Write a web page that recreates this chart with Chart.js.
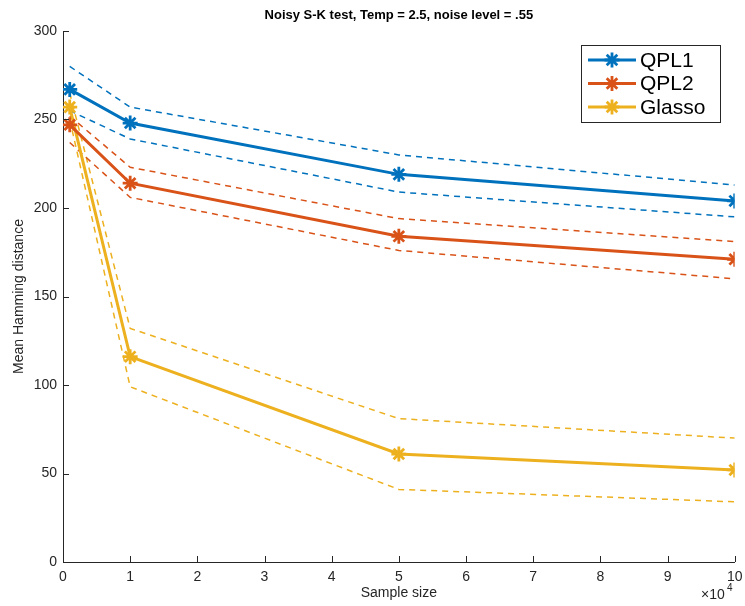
<!DOCTYPE html>
<html>
<head>
<meta charset="utf-8">
<script src="https://cdn.jsdelivr.net/npm/chart.js@4/dist/chart.umd.min.js"></script>
<style>
  html, body { margin: 0; padding: 0; background: #fff; }
  #wrap { width: 745px; height: 606px; }
</style>
</head>
<body>
<div id="wrap"><canvas id="chart" width="745" height="606"></canvas></div>
<script>
// Sample sizes in units of 10^4
const sampleSize = [0.1, 1, 5, 10];

const qpl1 = [267, 248, 219, 204];
const qpl1Upper = [280, 257, 230, 213];
const qpl1Lower = [255, 239, 209, 195];

const qpl2 = [247, 214, 184, 171];
const qpl2Upper = [252, 223, 194, 181];
const qpl2Lower = [237, 206, 176, 160];

const glasso = [257, 116, 61, 52];
const glassoUpper = [265, 132, 81, 70];
const glassoLower = [250, 99, 41, 34];

const xTicks = [0, 1, 2, 3, 4, 5, 6, 7, 8, 9, 10];
const yTicks = [0, 50, 100, 150, 200, 250, 300];

const BLUE = '#0072BD';
const ORANGE = '#D95319';
const YELLOW = '#EDB120';
const INK = '#262626';
const FONT = '"Liberation Sans", Arial, Helvetica, sans-serif';

const toXY = ys => ys.map((y, i) => ({ x: sampleSize[i], y }));

function mainSet(label, ys, color) {
  return {
    label, data: toXY(ys), borderColor: color, backgroundColor: color,
    borderWidth: 3, pointStyle: 'star', pointRadius: 7.5, pointBorderWidth: 2.8,
    pointBorderColor: color, tension: 0, order: 0
  };
}
function bandSet(ys, color) {
  return {
    label: '', data: toXY(ys), borderColor: color, borderWidth: 1.5,
    borderDash: [6, 5], pointRadius: 0, tension: 0, order: 1
  };
}

// inward tick marks, title, legend box and the x10^4 exponent
const matlabDecor = {
  id: 'matlabDecor',
  afterDraw(chart) {
    const { ctx, chartArea: a, scales } = chart;
    ctx.save();
    ctx.strokeStyle = INK;
    ctx.lineWidth = 1;
    ctx.beginPath();
    xTicks.forEach(v => {
      const x = Math.round(scales.x.getPixelForValue(v)) + 0.5;
      ctx.moveTo(x, a.bottom); ctx.lineTo(x, a.bottom - 6);
    });
    yTicks.forEach(v => {
      const y = Math.round(scales.y.getPixelForValue(v)) + 0.5;
      ctx.moveTo(a.left, y); ctx.lineTo(a.left + 6, y);
    });
    ctx.stroke();

    ctx.fillStyle = '#000';
    ctx.font = 'bold 13px ' + FONT;
    ctx.textAlign = 'center';
    ctx.textBaseline = 'middle';
    ctx.fillText('Noisy S-K test, Temp = 2.5, noise level = .55', (a.left + a.right) / 2, 15);

    ctx.fillStyle = INK;
    ctx.textAlign = 'left';
    ctx.textBaseline = 'alphabetic';
    ctx.font = '14px ' + FONT;
    ctx.fillText('\u00d710', 701, 599);
    ctx.font = '10px ' + FONT;
    ctx.fillText('4', 727, 591);

    // legend
    const bx = 581, by = 45, bw = 139, bh = 77;
    ctx.fillStyle = '#fff';
    ctx.fillRect(bx, by, bw, bh);
    ctx.strokeStyle = INK;
    ctx.strokeRect(bx + 0.5, by + 0.5, bw, bh);
    const entries = [['QPL1', BLUE], ['QPL2', ORANGE], ['Glasso', YELLOW]];
    entries.forEach(([name, color], i) => {
      const y = 60 + i * 23.5;
      ctx.strokeStyle = color;
      ctx.lineWidth = 3;
      ctx.beginPath();
      ctx.moveTo(588, y); ctx.lineTo(636, y);
      ctx.stroke();
      ctx.lineWidth = 2.8;
      Chart.helpers.drawPoint(ctx, { pointStyle: 'star', radius: 7.5, borderWidth: 2.8 }, 612, y);
      ctx.fillStyle = '#000';
      ctx.font = '21px ' + FONT;
      ctx.textBaseline = 'middle';
      ctx.fillText(name, 640, y + 1);
    });
    ctx.restore();
  }
};

new Chart(document.getElementById('chart'), {
  type: 'line',
  data: {
    datasets: [
      mainSet('QPL1', qpl1, BLUE),
      mainSet('QPL2', qpl2, ORANGE),
      mainSet('Glasso', glasso, YELLOW),
      bandSet(qpl1Upper, BLUE), bandSet(qpl1Lower, BLUE),
      bandSet(qpl2Upper, ORANGE), bandSet(qpl2Lower, ORANGE),
      bandSet(glassoUpper, YELLOW), bandSet(glassoLower, YELLOW)
    ]
  },
  options: {
    responsive: false,
    animation: false,
    layout: { padding: { top: 31, right: 0, left: 11, bottom: 4 } },
    plugins: { legend: { display: false }, tooltip: { enabled: false }, title: { display: false } },
    scales: {
      x: {
        type: 'linear', min: 0, max: 10,
        afterBuildTicks: s => { s.ticks = xTicks.map(v => ({ value: v })); },
        afterFit: s => { s.height = 40; s.paddingLeft = 0; s.paddingRight = 10; },
        grid: { display: false, drawTicks: false },
        border: { display: true, color: INK, width: 1 },
        ticks: { color: INK, padding: 7, font: { family: FONT, size: 14 } },
        title: { display: true, text: 'Sample size', color: INK, padding: 0, font: { family: FONT, size: 14 } }
      },
      y: {
        min: 0, max: 300,
        afterBuildTicks: s => { s.ticks = yTicks.map(v => ({ value: v })); },
        afterFit: s => { s.width = 52; },
        grid: { display: false, drawTicks: false },
        border: { display: true, color: INK, width: 1 },
        ticks: { color: INK, padding: 6, font: { family: FONT, size: 14 } },
        title: { display: true, text: 'Mean Hamming distance', color: INK, padding: 0, font: { family: FONT, size: 14 } }
      }
    }
  },
  plugins: [matlabDecor]
});
</script>
</body>
</html>
